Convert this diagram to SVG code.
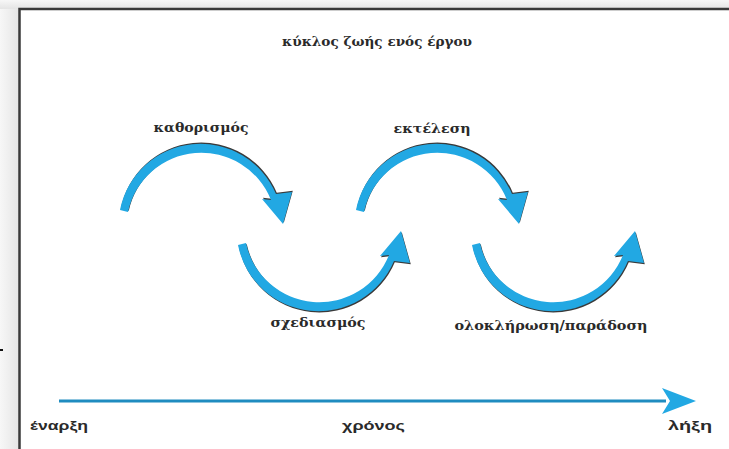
<svg xmlns="http://www.w3.org/2000/svg" xmlns:xlink="http://www.w3.org/1999/xlink" width="729" height="449" viewBox="0 0 729 449">
<style>
.lbl{font-family:"DejaVu Serif","Liberation Serif",serif;font-weight:bold;font-size:13px;fill:#2a2a2a;text-anchor:middle}
.tl{font-family:"Liberation Sans","DejaVu Sans",sans-serif;font-weight:bold;font-size:13px;fill:#2a2a2a}
.blue{fill:#22a8e3}
.shade{fill:#3a3a3a}
</style>
<defs>
<linearGradient id="gl" x1="0" y1="0" x2="1" y2="0">
<stop offset="0" stop-color="#f7f7f7"/><stop offset="1" stop-color="#e4e4e4"/>
</linearGradient>
<linearGradient id="gt" x1="0" y1="0" x2="0" y2="1">
<stop offset="0" stop-color="#f7f7f7"/><stop offset="1" stop-color="#e4e4e4"/>
</linearGradient>
<g id="arc">
<path class="shade" transform="translate(0.8,-1.3)" d="M120,210 A82,82 0 0 1 276,194 L292,192 L283,224 L262,199 L271,200 A75,75 0 0 0 128,212 Z"/>
<path class="blue" d="M120,210 A82,82 0 0 1 276,194 L292,192 L283,224 L262,199 L271,200 A75,75 0 0 0 128,212 Z"/>
</g>
<marker id="ah" markerWidth="34" markerHeight="26" refX="4" refY="13" orient="auto" markerUnits="userSpaceOnUse">
<path d="M0,0 L34,13 L0,26 L8,13 Z" fill="#22a8e3"/>
</marker>
</defs>
<rect x="0" y="0" width="729" height="449" fill="#f3f3f3"/>
<rect x="0" y="0" width="20" height="449" fill="url(#gl)"/>
<rect x="0" y="0" width="729" height="9" fill="url(#gt)"/>
<rect x="19.5" y="9" width="720" height="450" fill="#ffffff" stroke="#3a3a3a" stroke-width="2.5"/>
<rect x="0" y="349" width="3" height="2" fill="#111"/>
<text class="lbl" x="377" y="46" textLength="190" lengthAdjust="spacingAndGlyphs">κύκλος ζωής ενός έργου</text>
<g id="connectors">
<g id="arc1"><use xlink:href="#arc"/></g>
<g id="arc2"><use xlink:href="#arc" transform="translate(118,455) scale(1,-1)"/></g>
<g id="arc3"><use xlink:href="#arc" transform="translate(236,0)"/></g>
<g id="arc4"><use xlink:href="#arc" transform="translate(352,455) scale(1,-1)"/></g>
<g id="timeline">
<line x1="59" y1="401" x2="666" y2="401" stroke="#1f8cc0" stroke-width="3" marker-end="url(#ah)"/>
</g>
</g>
<g id="n-kathorismos"><text class="lbl" x="201" y="132" textLength="95" lengthAdjust="spacingAndGlyphs">καθορισμός</text></g>
<g id="n-schediasmos"><text class="lbl" x="318" y="327" textLength="95" lengthAdjust="spacingAndGlyphs">σχεδιασμός</text></g>
<g id="n-ektelesi"><text class="lbl" x="432" y="133" textLength="77" lengthAdjust="spacingAndGlyphs">εκτέλεση</text></g>
<g id="n-oloklirosi"><text class="lbl" x="551" y="330" textLength="193" lengthAdjust="spacingAndGlyphs">ολοκλήρωση/παράδοση</text></g>
<g id="n-enarxi"><text class="tl" x="30" y="430" textLength="58" lengthAdjust="spacingAndGlyphs">έναρξη</text></g>
<g id="n-chronos"><text class="tl" x="342" y="430" textLength="63" lengthAdjust="spacingAndGlyphs">χρόνος</text></g>
<g id="n-lixi"><text class="tl" x="668" y="430" textLength="44" lengthAdjust="spacingAndGlyphs">λήξη</text></g>
</svg>
